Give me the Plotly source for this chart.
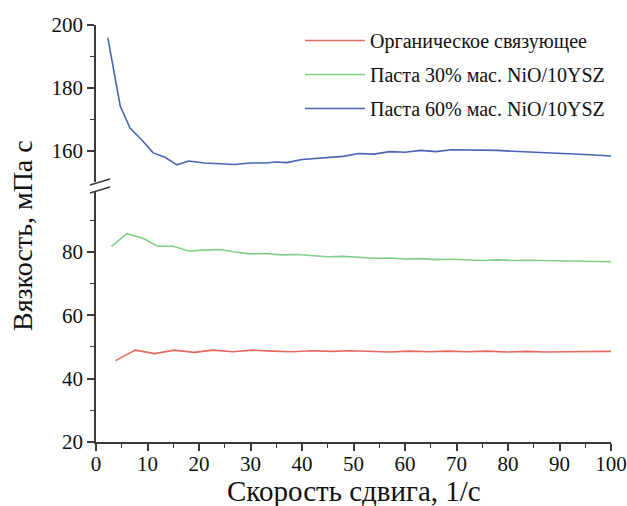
import plotly.graph_objects as go

# ---- data ----
x_binder = [3.8, 7.6, 11.4, 15.2, 19, 22.8, 26.6, 30.4, 34.2, 38, 41.8, 45.6, 49.4,
            53.2, 57, 60.8, 64.6, 68.4, 72.2, 76, 79.8, 83.6, 87.4, 91.2, 95, 100]
y_binder = [45.7, 49.0, 47.9, 49.0, 48.3, 49.0, 48.5, 49.0, 48.7, 48.5, 48.8, 48.6, 48.8,
            48.6, 48.4, 48.7, 48.5, 48.7, 48.5, 48.7, 48.4, 48.6, 48.4, 48.5, 48.5, 48.6]

x_p30 = [3, 6, 9, 12, 15, 18, 21, 24, 27, 30, 33, 36, 39, 42, 45, 48, 51, 54, 57, 60,
         63, 66, 69, 72, 75, 78, 81, 84, 87, 90, 93, 96, 100]
y_p30 = [81.8, 85.8, 84.4, 81.8, 81.8, 80.3, 80.6, 80.8, 80.0, 79.4, 79.5, 79.1, 79.2,
         78.8, 78.5, 78.6, 78.3, 78.0, 78.1, 77.8, 77.9, 77.6, 77.7, 77.5, 77.3, 77.5,
         77.3, 77.4, 77.3, 77.4, 77.3, 77.2, 76.9]

x_p60 = [2.3, 4.7, 6.6, 8.9, 11.1, 13.4, 15.7, 18, 21, 24, 27, 30, 33, 35, 37, 40, 43,
         46, 48, 51, 54, 57, 60, 63, 66, 69, 72, 75, 78, 81, 84, 87, 90, 93, 96, 100]
y_p60 = [195.9, 174.3, 167.3, 163.5, 159.4, 158.0, 155.6, 156.8, 156.2, 156.0, 155.7,
         156.2, 156.2, 156.5, 156.3, 157.3, 157.6, 157.9, 158.3, 159.2, 159.0, 159.8,
         159.6, 160.2, 159.8, 160.4, 160.3, 160.4, 160.2, 159.9, 159.7, 159.6, 159.2,
         159.0, 158.8, 158.4]

names = ["Органическое связующее", "Паста 30% мас. NiO/10YSZ", "Паста 60% мас. NiO/10YSZ"]
colors = ["#e8685f", "#82cf88", "#4a63b5"]
x_title = "Скорость сдвига, 1/с"
y_title = "Вязкость, мПа с"

W, H = 627, 506
L, R, T, B = 96, 16, 25, 64
PW, PH = W - L - R, H - T - B
low_top_px, up_bot_px = 192, 182
low_dom = [0, (H - B - low_top_px) / PH]
up_dom = [(H - B - up_bot_px) / PH, 1]

FONT = "Liberation Serif, Times New Roman, serif"
AX = "#3a3a3a"

fig = go.Figure()
fig.add_trace(go.Scatter(x=x_binder, y=y_binder, mode="lines", name=names[0],
                         line=dict(color=colors[0], width=1.6), yaxis="y",
                         legendgroup="a"))
fig.add_trace(go.Scatter(x=x_p30, y=y_p30, mode="lines", name=names[1],
                         line=dict(color=colors[1], width=1.6), yaxis="y",
                         legendgroup="b"))
fig.add_trace(go.Scatter(x=x_p60, y=y_p60, mode="lines", name=names[2],
                         line=dict(color=colors[2], width=1.6), yaxis="y2",
                         legendgroup="c"))

def minor(**kw):
    return dict(ticks="outside", ticklen=4, tickwidth=1.3, tickcolor=AX, **kw)

axis_common = dict(showline=True, linecolor=AX, linewidth=1.5, ticks="outside",
                   ticklen=7, tickwidth=1.5, tickcolor=AX, showgrid=False,
                   zeroline=False, automargin=False,
                   tickfont=dict(family=FONT, size=21, color="#111"))

# pixel -> paper coords (for decorations only)
def px(xp):
    return (xp - L) / PW

def py(yp):
    return (H - B - yp) / PH

# axis break marks
shapes = []
for y0 in (185, 193):
    shapes.append(dict(type="line", xref="paper", yref="paper",
                       x0=px(90), y0=py(y0), x1=px(110), y1=py(y0 - 6),
                       line=dict(color=AX, width=1.6)))

fig.update_layout(
    width=W, height=H,
    margin=dict(l=L, r=R, t=T, b=B, autoexpand=False),
    paper_bgcolor="white", plot_bgcolor="white",
    font=dict(family=FONT, color="#111"),
    xaxis=dict(range=[0, 100], dtick=10, tick0=0, anchor="y", ticklabelstandoff=-5,
               minor=minor(dtick=5), **axis_common),
    yaxis=dict(domain=low_dom, range=[20, 20 + (H - B - low_top_px) / 3.167], dtick=20,
               tick0=0, anchor="x", minor=minor(dtick=10, tick0=0), **axis_common),
    yaxis2=dict(domain=up_dom, range=[200 - (up_bot_px - T) / 3.15, 200], dtick=20,
                tick0=0, anchor="x", minor=minor(dtick=10, tick0=0), **axis_common),
    legend=dict(x=px(300), y=py(21), xanchor="left", yanchor="top",
                bgcolor="rgba(0,0,0,0)", font=dict(family=FONT, size=20, color="#111"),
                traceorder="grouped", tracegroupgap=5, itemwidth=60),
    shapes=shapes,
    annotations=[
        dict(text=y_title, xref="paper", yref="paper", x=px(23), y=py(236),
             textangle=-90, showarrow=False, xanchor="center", yanchor="middle",
             font=dict(family=FONT, size=28, color="#111")),
        dict(text=x_title, xref="paper", yref="paper", x=px(354), y=py(491),
             showarrow=False, xanchor="center", yanchor="middle",
             font=dict(family=FONT, size=29, color="#111")),
    ],
    showlegend=True,
)

fig.write_html("out.html", config={"displayModeBar": False},
               post_script="document.body.style.margin='0';")
